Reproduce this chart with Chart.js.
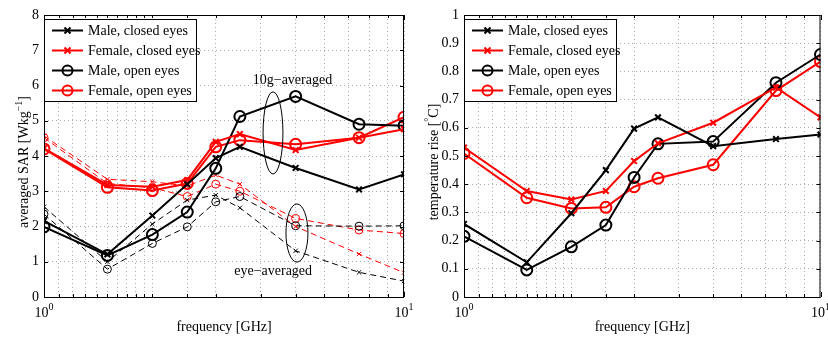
<!DOCTYPE html>
<html>
<head>
<meta charset="utf-8">
<script src="https://cdn.jsdelivr.net/npm/chart.js@4"></script>
<style>
  body { margin: 0; background: #fff; }
  #wrap { position: relative; width: 828px; height: 338px; }
  .box { position: absolute; top: 0; height: 338px; }
</style>
</head>
<body>
<div id="wrap">
  <div class="box" style="left:0;width:420px"><canvas id="sarChart"></canvas></div>
  <div class="box" style="left:420px;width:408px"><canvas id="tempChart"></canvas></div>
</div>
<script>
const freqs = [1, 1.5, 2, 2.5, 3, 3.5, 5, 7.5, 10];

// left panel, 10g-averaged SAR (solid lines)
const sarMaleClosed   = [2.16, 1.21, 2.31, 3.2, 3.94, 4.26, 3.66, 3.05, 3.48];
const sarFemaleClosed = [4.22, 3.18, 3.13, 3.32, 4.4, 4.62, 4.17, 4.52, 4.76];
const sarMaleOpen     = [1.99, 1.18, 1.77, 2.41, 3.65, 5.12, 5.69, 4.9, 4.86];
const sarFemaleOpen   = [4.2, 3.11, 3.02, 3.22, 4.26, 4.45, 4.33, 4.52, 5.1];
// left panel, eye-averaged SAR (dashed lines)
const eyeMaleClosed   = [2.56, 1.0, 2.07, 2.75, 2.89, 2.53, 1.31, 0.7, 0.45];
const eyeFemaleClosed = [4.57, 3.34, 3.27, 3.15, 3.46, 3.2, 2.0, 1.22, 0.69];
const eyeMaleOpen     = [2.35, 0.79, 1.52, 1.99, 2.7, 2.85, 2.02, 2.01, 2.02];
const eyeFemaleOpen   = [4.52, 3.22, 3.1, 2.85, 3.2, 3.0, 2.23, 1.9, 1.8];

// right panel, temperature rise
const tMaleClosed   = [0.259, 0.123, 0.297, 0.45, 0.597, 0.637, 0.535, 0.56, 0.576];
const tFemaleClosed = [0.53, 0.376, 0.346, 0.376, 0.482, 0.545, 0.618, 0.743, 0.637];
const tMaleOpen     = [0.215, 0.096, 0.178, 0.255, 0.424, 0.543, 0.551, 0.76, 0.86];
const tFemaleOpen   = [0.509, 0.352, 0.314, 0.318, 0.391, 0.421, 0.469, 0.732, 0.835];

const legendLabels = ['Male, closed eyes', 'Female, closed eyes', 'Male, open eyes', 'Female, open eyes'];
const sarTicks = [0, 1, 2, 3, 4, 5, 6, 7, 8];
const tempTicks = [0, 0.1, 0.2, 0.3, 0.4, 0.5, 0.6, 0.7, 0.8, 0.9, 1];

const SERIF = "'Liberation Serif', 'Times New Roman', serif";
const RED = '#ff0000';

function pts(vals) {
  return vals.map((v, i) => ({ x: freqs[i], y: v }));
}

function solid(label, vals, color, style) {
  return {
    label: label, data: pts(vals), borderColor: color, borderWidth: 2,
    pointStyle: style, pointRadius: style === 'circle' ? 5.5 : 4,
    pointBorderWidth: 2, pointBorderColor: color, pointBackgroundColor: 'transparent',
    tension: 0, fill: false
  };
}

function dashed(label, vals, color, style) {
  return {
    label: label, data: pts(vals), borderColor: color, borderWidth: 1,
    borderDash: [6, 4],
    pointStyle: style, pointRadius: style === 'circle' ? 4 : 3,
    pointBorderWidth: 1, pointBorderColor: color, pointBackgroundColor: 'transparent',
    tension: 0, fill: false
  };
}

function drawMarker(ctx, style, x, y, r) {
  ctx.beginPath();
  if (style === 'circle') {
    ctx.arc(x, y, r, 0, Math.PI * 2);
  } else {
    ctx.moveTo(x - r, y - r); ctx.lineTo(x + r, y + r);
    ctx.moveTo(x - r, y + r); ctx.lineTo(x + r, y - r);
  }
  ctx.stroke();
}

// box, inward ticks, axis texts, legend and notes
const decor = {
  id: 'decor',
  afterDraw(chart, args, opts) {
    const ctx = chart.ctx;
    const a = chart.chartArea;
    const xs = chart.scales.x, ys = chart.scales.y;
    ctx.save();
    ctx.strokeStyle = '#000';
    ctx.lineWidth = 1;
    ctx.setLineDash([]);
    ctx.strokeRect(a.left + 0.5, a.top + 0.5, a.right - a.left - 1, a.bottom - a.top);

    ys.ticks.forEach(t => {
      const py = Math.round(ys.getPixelForValue(t.value)) + 0.5;
      ctx.beginPath();
      ctx.moveTo(a.left, py); ctx.lineTo(a.left + 4, py);
      ctx.moveTo(a.right, py); ctx.lineTo(a.right - 4, py);
      ctx.stroke();
    });
    xs.ticks.forEach(t => {
      const px = Math.round(xs.getPixelForValue(t.value)) + 0.5;
      const len = (t.value === 1 || t.value === 10) ? 5 : 3;
      ctx.beginPath();
      ctx.moveTo(px, a.bottom); ctx.lineTo(px, a.bottom - len);
      ctx.moveTo(px, a.top); ctx.lineTo(px, a.top + len);
      ctx.stroke();
    });

    // x tick labels 10^0, 10^1
    ctx.fillStyle = '#000';
    ctx.textBaseline = 'alphabetic';
    [[1, '0'], [10, '1']].forEach(([v, e]) => {
      const px = xs.getPixelForValue(v);
      ctx.font = '14px ' + SERIF;
      const w1 = ctx.measureText('10').width;
      ctx.font = '10px ' + SERIF;
      const w2 = ctx.measureText(e).width;
      const x0 = px - (w1 + w2) / 2;
      ctx.font = '14px ' + SERIF;
      ctx.textAlign = 'left';
      ctx.fillText('10', x0, a.bottom + 20);
      ctx.font = '10px ' + SERIF;
      ctx.fillText(e, x0 + w1, a.bottom + 13);
    });

    // x title
    ctx.font = '14px ' + SERIF;
    ctx.textAlign = 'center';
    ctx.fillText('frequency [GHz]', (a.left + a.right) / 2, a.bottom + 34);

    // y title with superscript
    ctx.save();
    ctx.translate(opts.yTitleX, (a.top + a.bottom) / 2 + 6);
    ctx.rotate(-Math.PI / 2);
    ctx.font = '14px ' + SERIF;
    const wa = ctx.measureText(opts.yTitle[0]).width;
    const wc = ctx.measureText(opts.yTitle[2]).width;
    ctx.font = '10px ' + SERIF;
    const wb = ctx.measureText(opts.yTitle[1]).width;
    let tx = -(wa + wb + wc) / 2;
    ctx.textAlign = 'left';
    ctx.font = '14px ' + SERIF;
    ctx.fillText(opts.yTitle[0], tx, 5);
    ctx.font = '10px ' + SERIF;
    ctx.fillText(opts.yTitle[1], tx + wa, -1);
    ctx.font = '14px ' + SERIF;
    ctx.fillText(opts.yTitle[2], tx + wa + wb, 5);
    ctx.restore();

    // notes: ellipses and labels
    (opts.notes || []).forEach(n => {
      const x1 = xs.getPixelForValue(n.f[0]), x2 = xs.getPixelForValue(n.f[1]);
      const y1 = ys.getPixelForValue(n.v[0]), y2 = ys.getPixelForValue(n.v[1]);
      ctx.beginPath();
      ctx.ellipse((x1 + x2) / 2, (y1 + y2) / 2, Math.abs(x2 - x1) / 2, Math.abs(y2 - y1) / 2, 0, 0, Math.PI * 2);
      ctx.stroke();
      ctx.font = '14px ' + SERIF;
      ctx.textAlign = 'center';
      ctx.textBaseline = 'middle';
      ctx.fillText(n.text, xs.getPixelForValue(n.at[0]), ys.getPixelForValue(n.at[1]));
    });

    // legend
    const lx = a.left, ly = a.top + 4, lw = 152, lh = 82;
    ctx.fillStyle = '#fff';
    ctx.fillRect(lx, ly, lw, lh);
    ctx.strokeRect(lx + 0.5, ly + 0.5, lw, lh);
    ctx.textAlign = 'left';
    ctx.textBaseline = 'middle';
    ctx.font = '14px ' + SERIF;
    for (let i = 0; i < 4; i++) {
      const ds = chart.data.datasets[i];
      const y = ly + 11.5 + i * 20;
      ctx.strokeStyle = ds.borderColor;
      ctx.lineWidth = 2;
      ctx.beginPath();
      ctx.moveTo(lx + 8, y); ctx.lineTo(lx + 39, y);
      ctx.stroke();
      drawMarker(ctx, ds.pointStyle, lx + 23.5, y, ds.pointStyle === 'circle' ? 5 : 3);
      ctx.fillStyle = '#000';
      ctx.fillText(legendLabels[i], lx + 44, y + 1);
    }
    ctx.restore();
  }
};

function makeOptions(ticks, rightPad, decorOpts) {
  return {
    responsive: true,
    maintainAspectRatio: false,
    animation: false,
    layout: { padding: { top: 15, right: rightPad, left: 0, bottom: 0 } },
    plugins: { legend: { display: false }, tooltip: { enabled: false }, decor: decorOpts },
    scales: {
      x: {
        type: 'logarithmic', min: 1, max: 10,
        afterFit: s => { s.height = 41; },
        ticks: { callback: () => '', maxRotation: 0, autoSkip: false },
        grid: { color: '#aaa', lineWidth: 1, drawTicks: false },
        border: { display: false, dash: [1, 3] }
      },
      y: {
        min: ticks[0], max: ticks[ticks.length - 1],
        afterFit: s => { s.width = 44; },
        afterBuildTicks: s => { s.ticks = ticks.map(v => ({ value: v })); },
        ticks: {
          padding: 5, color: '#000',
          font: { family: SERIF, size: 14 },
          callback: v => String(Number(v.toFixed(1)))
        },
        grid: { color: '#aaa', lineWidth: 1, drawTicks: false },
        border: { display: false, dash: [1, 3] }
      }
    }
  };
}

new Chart(document.getElementById('sarChart'), {
  type: 'line',
  data: {
    datasets: [
      solid('Male, closed eyes', sarMaleClosed, '#000', 'crossRot'),
      solid('Female, closed eyes', sarFemaleClosed, RED, 'crossRot'),
      solid('Male, open eyes', sarMaleOpen, '#000', 'circle'),
      solid('Female, open eyes', sarFemaleOpen, RED, 'circle'),
      dashed('Male, closed eyes (eye)', eyeMaleClosed, '#000', 'crossRot'),
      dashed('Female, closed eyes (eye)', eyeFemaleClosed, RED, 'crossRot'),
      dashed('Male, open eyes (eye)', eyeMaleOpen, '#000', 'circle'),
      dashed('Female, open eyes (eye)', eyeFemaleOpen, RED, 'circle')
    ]
  },
  options: makeOptions(sarTicks, 16, {
    yTitle: ['averaged SAR [Wkg', '\u22121', ']'],
    yTitleX: 23,
    notes: [
      { text: '10g\u2212averaged', f: [4.06, 4.61], v: [3.49, 5.82], at: [4.9, 6.15] },
      { text: 'eye\u2212averaged', f: [4.7, 5.41], v: [0.99, 2.64], at: [4.33, 0.72] }
    ]
  }),
  plugins: [decor]
});

new Chart(document.getElementById('tempChart'), {
  type: 'line',
  data: {
    datasets: [
      solid('Male, closed eyes', tMaleClosed, '#000', 'crossRot'),
      solid('Female, closed eyes', tFemaleClosed, RED, 'crossRot'),
      solid('Male, open eyes', tMaleOpen, '#000', 'circle'),
      solid('Female, open eyes', tFemaleOpen, RED, 'circle')
    ]
  },
  options: makeOptions(tempTicks, 4, {
    yTitle: ['temperature rise [', '\u00b0', 'C]'],
    yTitleX: 13,
    notes: []
  }),
  plugins: [decor]
});
</script>
</body>
</html>
